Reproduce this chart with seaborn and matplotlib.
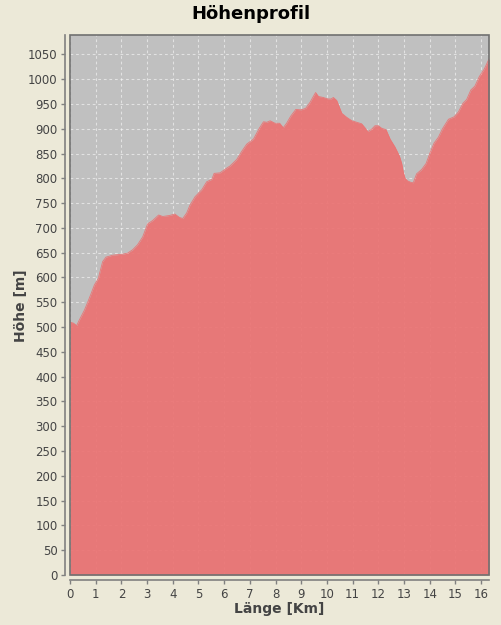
import matplotlib
matplotlib.use("Agg")
import matplotlib.pyplot as plt
import seaborn as sns
import pandas as pd
from matplotlib.patches import Rectangle

# ---- data ----
dist_km = [0.0, 0.13, 0.26, 0.36, 0.56, 0.75, 0.95, 1.10, 1.27, 1.40, 1.66, 2.05, 2.24, 2.44,
           2.63, 2.83, 3.02, 3.22, 3.45, 3.61, 3.87, 4.08, 4.26, 4.39, 4.54, 4.67, 4.87, 5.13,
           5.32, 5.52, 5.61, 5.84, 6.03, 6.23, 6.49, 6.68, 6.88, 7.14, 7.37, 7.53, 7.66, 7.79,
           7.98, 8.16, 8.30, 8.43, 8.60, 8.79, 8.99, 9.17, 9.34, 9.47, 9.56, 9.67, 9.86, 10.03,
           10.16, 10.25, 10.38, 10.58, 10.77, 10.97, 11.16, 11.35, 11.48, 11.59, 11.74, 11.87,
           12.00, 12.13, 12.30, 12.46, 12.65, 12.82, 12.91, 12.97, 13.04, 13.13, 13.26, 13.36,
           13.49, 13.69, 13.86, 14.01, 14.17, 14.34, 14.51, 14.73, 14.95, 15.12, 15.29, 15.44,
           15.60, 15.76, 15.93, 16.12, 16.32]
elev_m = [510, 508, 503, 514, 534, 558, 585, 598, 632, 641, 645, 647, 649, 656, 666, 682, 708,
          715, 726, 723, 725, 728, 721, 719, 730, 746, 763, 777, 793, 798, 810, 811, 818, 825,
          838, 854, 869, 879, 901, 914, 913, 916, 911, 911, 902, 911, 926, 939, 938, 941, 953,
          965, 973, 965, 963, 960, 960, 963, 957, 931, 923, 916, 913, 910, 902, 894, 899, 906,
          906, 901, 898, 879, 863, 845, 830, 813, 800, 795, 792, 791, 809, 818, 830, 851, 871,
          883, 901, 919, 924, 934, 951, 959, 978, 986, 1005, 1020, 1042]
x_ticks = list(range(0, 17))
y_ticks = list(range(0, 1051, 50))

title = "Höhenprofil"
x_label = "Länge [Km]"
y_label = "Höhe [m]"

df = pd.DataFrame({"km": dist_km, "hoehe": elev_m})

# ---- style ----
sns.set_theme(style="white")
plt.rcParams["font.family"] = ["DejaVu Sans"]

BG = "#ECE9D8"
PLOT_BG = "#C0C0C0"
FILL = (235/255, 114/255, 114/255)
TXT = "#444444"
AX = "#808080"

fig = plt.figure(figsize=(5.01, 6.25), dpi=100, facecolor=BG)
ax = fig.add_axes([70/501, 1-575/625, (489.3-70)/501, (575-34.5)/625])
ax.set_facecolor(PLOT_BG)

sns.lineplot(data=df, x="km", y="hoehe", ax=ax, color=FILL, lw=0.6, alpha=0.92, zorder=3)
ax.fill_between(df["km"], df["hoehe"], 0, color=FILL, alpha=0.92, lw=0, zorder=3)

ax.set_xlim(0, 16.32)
ax.set_ylim(0, 1090)
ax.set_xticks(x_ticks)
ax.set_yticks(y_ticks)

ax.grid(True, color="white", alpha=0.55, lw=0.8, ls=(0, (2.5, 2.5)), zorder=1)
ax.set_axisbelow(True)

# spines: offset axis lines for left/bottom, outline frame for plot area
for s in ["top", "right"]:
    ax.spines[s].set_visible(False)
for s in ["left", "bottom"]:
    ax.spines[s].set_position(("outward", 3.5))
    ax.spines[s].set_color(AX)
    ax.spines[s].set_linewidth(1.2)
ax.add_patch(Rectangle((0, 0), 1, 1, transform=ax.transAxes, fill=False,
                       edgecolor="#707070", lw=1.2, zorder=5, clip_on=False))

ax.tick_params(axis="both", which="both", direction="out", length=3, width=1,
               color=AX, labelcolor=TXT, labelsize=8.5, pad=2.5,
               left=True, bottom=True)

ax.set_xlabel(x_label, fontsize=10, fontweight="bold", color=TXT, va="center")
ax.set_ylabel(y_label, fontsize=10, fontweight="bold", color=TXT, va="center")
ax.xaxis.set_label_coords(0.5, (575 - 609) / 540.5)
ax.yaxis.set_label_coords((21 - 70) / 419.3, 0.5 - (305.5 - 304.75) / 540.5)

fig.text(0.5, 1-14/625, title, ha="center", va="center", fontsize=13,
         fontweight="bold", color="black")

fig.savefig("out.png", dpi=100, facecolor=BG)
